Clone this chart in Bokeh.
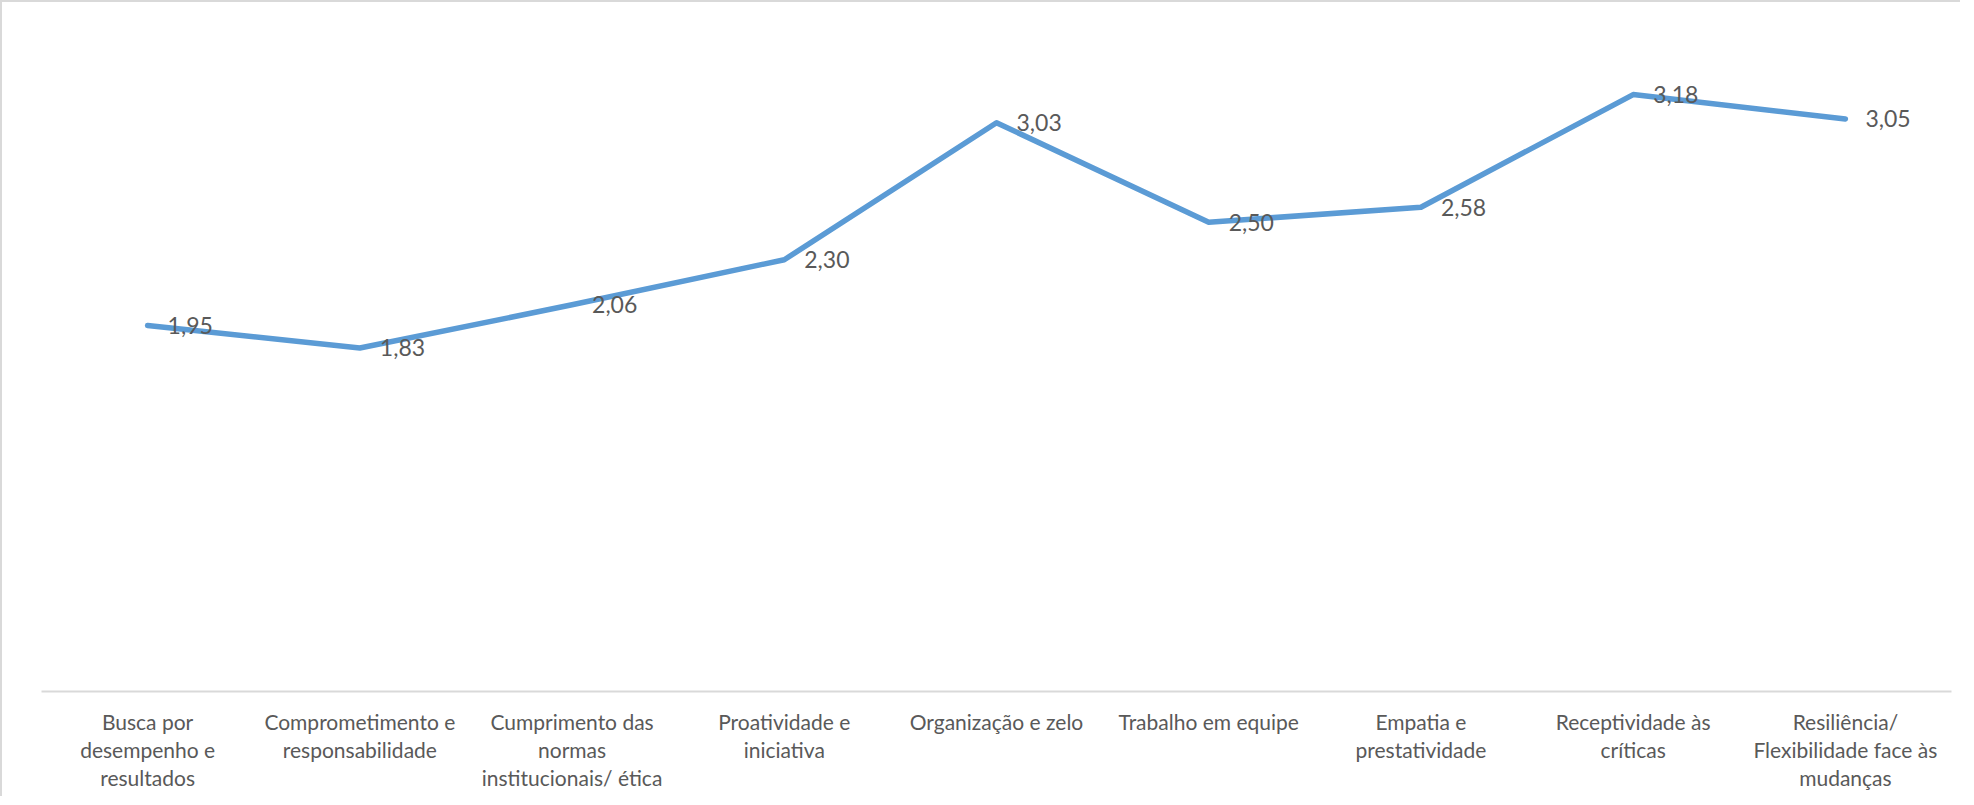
from bokeh.plotting import figure
from bokeh.models import FactorRange, Range1d
from bokeh.core.properties import value
from bokeh.embed import file_html
from bokeh.resources import INLINE

tick_labels = [
    "Busca por\ndesempenho e\nresultados",
    "Comprometimento e\nresponsabilidade",
    "Cumprimento das\nnormas\ninstitucionais/ ética",
    "Proatividade e\niniciativa",
    "Organização e zelo",
    "Trabalho em equipe",
    "Empatia e\nprestatividade",
    "Receptividade às\ncríticas",
    "Resiliência/\nFlexibilidade face às\nmudanças",
]
values = [1.95, 1.83, 2.06, 2.30, 3.03, 2.50, 2.58, 3.18, 3.05]
value_labels = ["1,95", "1,83", "2,06", "2,30", "3,03", "2,50", "2,58", "3,18", "3,05"]

FONT = "Lato"
GRAY = "#595959"

p = figure(
    x_range=FactorRange(*tick_labels, range_padding=0),
    y_range=Range1d(0, 3.5),
    frame_width=1910, frame_height=657,
    min_border_left=39, min_border_right=9,
    min_border_top=32, min_border_bottom=105,
    output_backend="svg", toolbar_location=None,
    y_axis_location=None,
)
p.styles = {"border-left": "2px solid #d9d9d9", "border-top": "2px solid #d9d9d9"}
p.outline_line_color = None
p.xgrid.grid_line_color = None
p.ygrid.grid_line_color = None
p.background_fill_color = "white"
p.border_fill_color = "white"

ax = p.xaxis[0]
ax.axis_line_color = "#d9d9d9"
ax.axis_line_width = 2
ax.major_tick_line_color = None
ax.minor_tick_line_color = None
ax.major_label_standoff = 11
ax.major_label_text_font = FONT
ax.major_label_text_font_size = "21px"
ax.major_label_text_color = GRAY
ax.major_label_text_line_height = 1.13

p.line(tick_labels, values, line_color="#5B9BD5", line_width=5.5,
       line_cap="round", line_join="round")
p.text(tick_labels, values, text=value_labels, x_offset=20,
       text_align="left", text_baseline="middle",
       text_font=value(FONT), text_font_size="23px", text_color=GRAY)

open("out.html", "w").write(file_html(p, INLINE))
